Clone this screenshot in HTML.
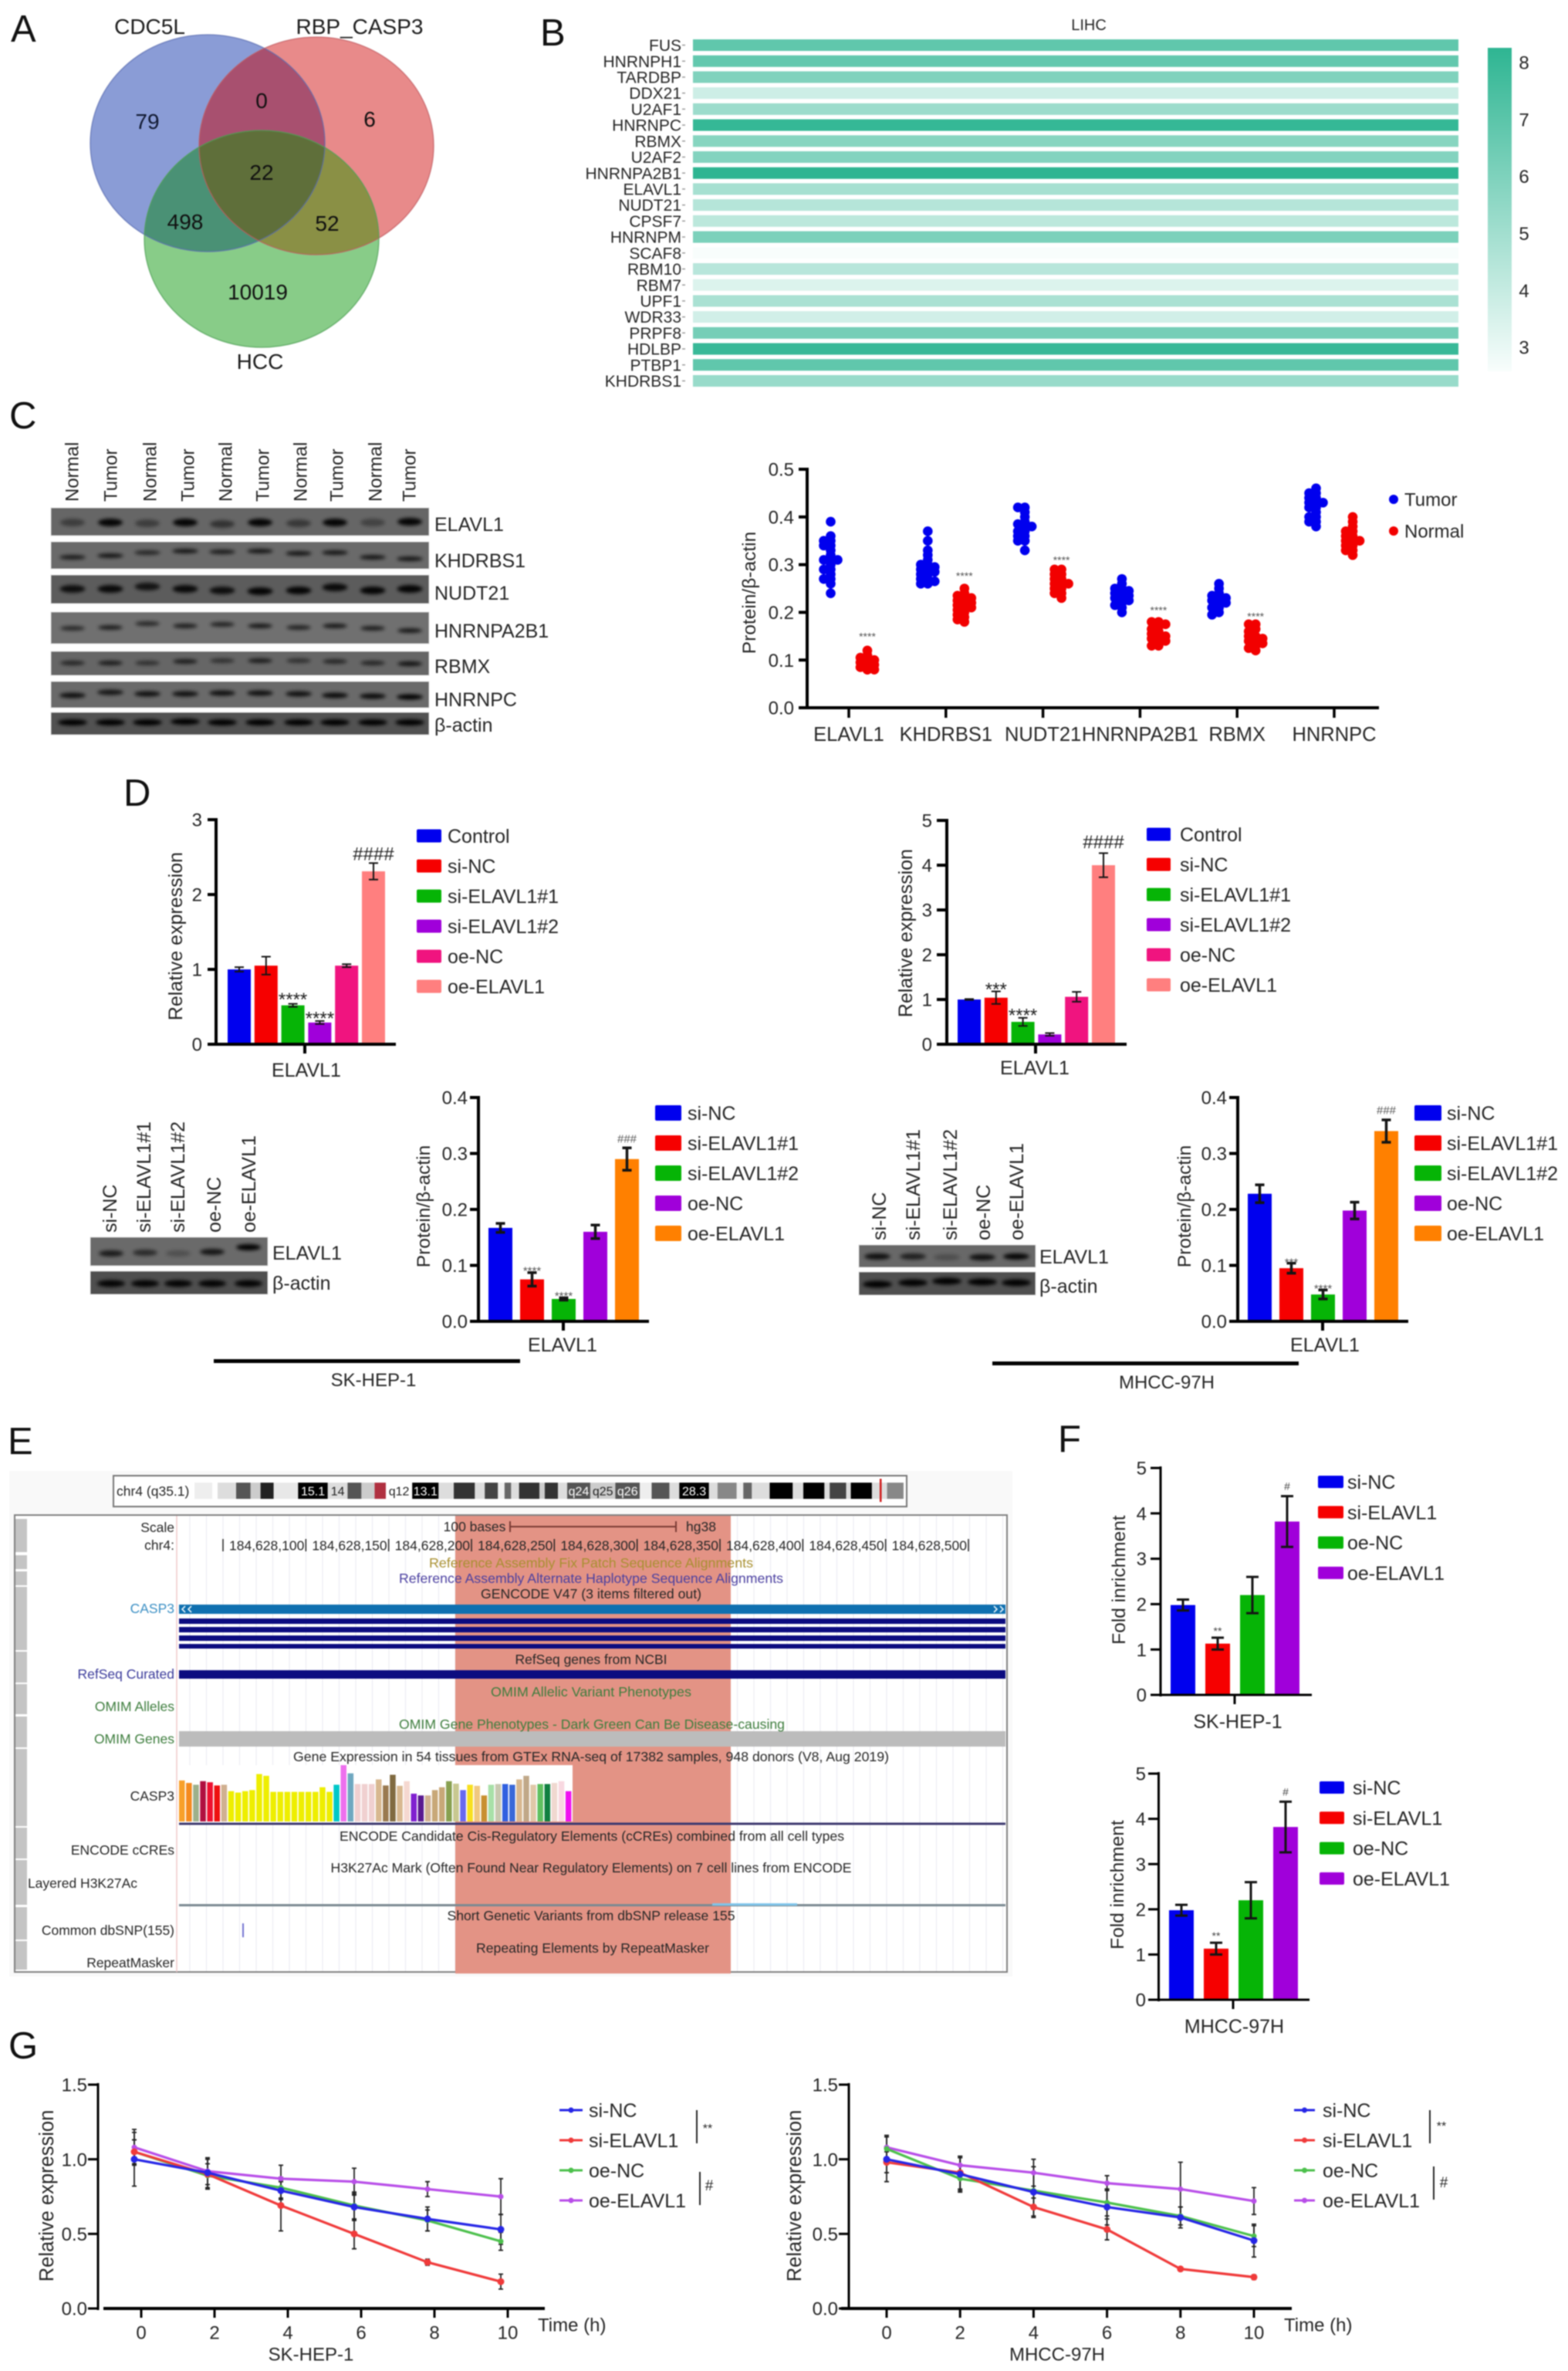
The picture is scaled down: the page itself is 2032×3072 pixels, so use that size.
<!DOCTYPE html>
<html lang="en">
<head>
<meta charset="utf-8">
<title>Multi-panel ELAVL1 and CASP3 figure</title>
<style>
  html, body { margin: 0; padding: 0; background: #fff; }
  body { width: 2032px; height: 3072px; overflow: hidden; }
  #figure { display: block; filter: blur(0.8px); font-family: "Liberation Sans", "DejaVu Sans", sans-serif; fill: #262626; }
  .track { font-size: 17.5px; }
  .letter { font-size: 49px; fill: #111; }
</style>
</head>
<body>
<svg id="figure" xmlns="http://www.w3.org/2000/svg" width="2032" height="3072" viewBox="0 0 2032 3072">
  <defs>
    <filter id="bandBlur" x="-30%" y="-80%" width="160%" height="260%"><feGaussianBlur stdDeviation="2.4"></feGaussianBlur></filter>
    <linearGradient id="colorbarGradient" x1="0" y1="0" x2="0" y2="1">
      <stop offset="0" stop-color="#2eb592"></stop>
      <stop offset="1" stop-color="#f8fdfc"></stop>
    </linearGradient>
    <clipPath id="clipBlue"><ellipse cx="269" cy="185.5" rx="152" ry="140.5"></ellipse></clipPath>
    <clipPath id="clipRed"><ellipse cx="410" cy="189" rx="152" ry="141"></ellipse></clipPath>
  </defs>
  <rect x="0" y="0" width="2032" height="3072" fill="#fff"></rect>

  <text class="letter" x="14" y="54">A</text>
  <text class="letter" x="700" y="59">B</text>
  <text class="letter" x="12" y="555">C</text>
  <text class="letter" x="160" y="1044">D</text>
  <text class="letter" x="10" y="1884">E</text>
  <text class="letter" x="1371" y="1881">F</text>
  <text class="letter" x="11" y="2667">G</text>

  <g id="venn" font-size="28">
    <ellipse cx="269" cy="185.5" rx="152" ry="140.5" fill="#8a9cd6"></ellipse>
    <ellipse cx="410" cy="189" rx="152" ry="141" fill="#e88a8a"></ellipse>
    <ellipse cx="339" cy="309.5" rx="152" ry="140.5" fill="#88cc88"></ellipse>
    <g clip-path="url(#clipBlue)"><ellipse cx="410" cy="189" rx="152" ry="141" fill="#a8506f"></ellipse></g>
    <g clip-path="url(#clipBlue)"><ellipse cx="339" cy="309.5" rx="152" ry="140.5" fill="#4a9175"></ellipse></g>
    <g clip-path="url(#clipRed)"><ellipse cx="339" cy="309.5" rx="152" ry="140.5" fill="#8a9045"></ellipse></g>
    <g clip-path="url(#clipBlue)"><g clip-path="url(#clipRed)"><ellipse cx="339" cy="309.5" rx="152" ry="140.5" fill="#5f6f3a"></ellipse></g></g>
    <g fill="none" stroke-width="1.5">
      <ellipse cx="269" cy="185.5" rx="152" ry="140.5" stroke="#5a6cb0" stroke-opacity="0.7"></ellipse>
      <ellipse cx="410" cy="189" rx="152" ry="141" stroke="#c05a60" stroke-opacity="0.7"></ellipse>
      <ellipse cx="339" cy="309.5" rx="152" ry="140.5" stroke="#4f9f55" stroke-opacity="0.7"></ellipse>
    </g>
    <g text-anchor="middle" fill="#1c1c1c">
      <text x="194" y="44">CDC5L</text>
      <text x="466" y="44">RBP_CASP3</text>
      <text x="337" y="478">HCC</text>
      <text x="191" y="167" fill="#101830">79</text>
      <text x="339" y="140" fill="#101010">0</text>
      <text x="479" y="164" fill="#101010">6</text>
      <text x="339" y="233" fill="#101010">22</text>
      <text x="240" y="297" fill="#101010">498</text>
      <text x="424" y="299" fill="#101010">52</text>
      <text x="334" y="388" fill="#101010">10019</text>
    </g>
  </g>

  <g id="heatmap"></g>
  <g id="blot-c"></g>
  <g id="scatter"></g>
  <g id="blot-d3"></g>
  <g id="blot-d4"></g>

  <g>
    <rect x="277" y="1761" width="397" height="5" fill="#000"></rect>
    <text x="484" y="1796" font-size="24" text-anchor="middle">SK-HEP-1</text>
  </g>
  <g>
    <rect x="1286" y="1764" width="397" height="5" fill="#000"></rect>
    <text x="1512" y="1799" font-size="24" text-anchor="middle">MHCC-97H</text>
  </g>

  <g id="browser">
    <rect x="12" y="1906" width="1300" height="655" fill="#f9f9f9"></rect>
    <rect x="147" y="1912" width="1028" height="40" fill="#fff" stroke="#777" stroke-width="2"></rect>
    <text class="track" x="151" y="1938">chr4 (q35.1)</text>
    <g id="ideogram"></g>
    <rect x="19" y="1963" width="1286" height="592" fill="#fff" stroke="#808080" stroke-width="2"></rect>
    <g id="browser-grid"></g>
    <rect x="590" y="1964" width="357" height="593" fill="#e39385"></rect>
    <g id="browser-left"></g>
    <line x1="229" y1="1964" x2="229" y2="2555" stroke="#f0c8c8" stroke-width="1.5"></line>

    <g id="browser-axis"></g>
    <text class="track" x="615" y="1984" text-anchor="middle">100 bases</text>
    <g stroke="#7a3a34" stroke-width="2">
      <line x1="661" y1="1978" x2="876" y2="1978"></line>
      <line x1="661" y1="1971" x2="661" y2="1985"></line>
      <line x1="876" y1="1971" x2="876" y2="1985"></line>
    </g>
    <text class="track" x="889" y="1984">hg38</text>

    <g class="track" text-anchor="end">
      <text x="226" y="1985">Scale</text>
      <text x="226" y="2008">chr4:</text>
      <text x="226" y="2090" fill="#3b8fc4">CASP3</text>
      <text x="226" y="2175" fill="#3a3a9a">RefSeq Curated</text>
      <text x="226" y="2217" fill="#3d7d3d">OMIM Alleles</text>
      <text x="226" y="2259" fill="#3d7d3d">OMIM Genes</text>
      <text x="226" y="2333">CASP3</text>
      <text x="226" y="2403">ENCODE cCREs</text>
      <text x="178" y="2446">Layered H3K27Ac</text>
      <text x="226" y="2507">Common dbSNP(155)</text>
      <text x="226" y="2549">RepeatMasker</text>
    </g>

    <rect x="232" y="2079" width="1071" height="12" fill="#0f70b0"></rect>
    <g stroke="#e8f4fb" stroke-width="1.6" fill="none">
      <path d="M240 2081l-4 4l4 4M248 2081l-4 4l4 4"></path>
      <path d="M1288 2081l4 4l-4 4M1296 2081l4 4l-4 4"></path>
    </g>
    <rect x="232" y="2097" width="1071" height="7" fill="#0c0c80"></rect>
    <rect x="232" y="2108" width="1071" height="7" fill="#0c0c80"></rect>
    <rect x="232" y="2119" width="1071" height="7" fill="#0c0c80"></rect>
    <rect x="232" y="2130" width="1071" height="6" fill="#0c0c80"></rect>
    <rect x="232" y="2164" width="1071" height="11" fill="#0c0c80"></rect>
    <rect x="232" y="2243" width="1071" height="20" fill="#bcbcbc"></rect>
    <rect x="232" y="2287" width="510" height="73" fill="#fff"></rect>
    <g id="gtex"></g>
    <rect x="232" y="2361.5" width="1071" height="3" fill="#3e3a70"></rect>
    <rect x="232" y="2467" width="1071" height="3" fill="#7b8a92"></rect>
    <rect x="923" y="2466" width="110" height="3" fill="#7fc4ea"></rect>
    <rect x="314" y="2492" width="2" height="18" fill="#7070d0"></rect>

    <g class="track" text-anchor="middle">
      <text x="766" y="2031" fill="#a88f30" textLength="420" lengthAdjust="spacingAndGlyphs">Reference Assembly Fix Patch Sequence Alignments</text>
      <text x="766" y="2051" fill="#4a3fa0" textLength="498" lengthAdjust="spacingAndGlyphs">Reference Assembly Alternate Haplotype Sequence Alignments</text>
      <text x="766" y="2071" textLength="286" lengthAdjust="spacingAndGlyphs">GENCODE V47 (3 items filtered out)</text>
      <text x="766" y="2156" textLength="197" lengthAdjust="spacingAndGlyphs">RefSeq genes from NCBI</text>
      <text x="766" y="2198" fill="#3d7d3d" textLength="260" lengthAdjust="spacingAndGlyphs">OMIM Allelic Variant Phenotypes</text>
      <text x="767" y="2240" fill="#3d7d3d" textLength="500" lengthAdjust="spacingAndGlyphs">OMIM Gene Phenotypes - Dark Green Can Be Disease-causing</text>
      <text x="766" y="2282" textLength="772" lengthAdjust="spacingAndGlyphs">Gene Expression in 54 tissues from GTEx RNA-seq of 17382 samples, 948 donors (V8, Aug 2019)</text>
      <text x="767" y="2385" textLength="654" lengthAdjust="spacingAndGlyphs">ENCODE Candidate Cis-Regulatory Elements (cCREs) combined from all cell types</text>
      <text x="766" y="2426" textLength="675" lengthAdjust="spacingAndGlyphs">H3K27Ac Mark (Often Found Near Regulatory Elements) on 7 cell lines from ENCODE</text>
      <text x="766" y="2488" textLength="373" lengthAdjust="spacingAndGlyphs">Short Genetic Variants from dbSNP release 155</text>
      <text x="768" y="2530" textLength="302" lengthAdjust="spacingAndGlyphs">Repeating Elements by RepeatMasker</text>
    </g>
  </g>
</svg>

<script>
// ---------- Panel B data ----------
const heatmapGenes = ['FUS','HNRNPH1','TARDBP','DDX21','U2AF1','HNRNPC','RBMX','U2AF2','HNRNPA2B1','ELAVL1','NUDT21','CPSF7','HNRNPM','SCAF8','RBM10','RBM7','UPF1','WDR33','PRPF8','HDLBP','PTBP1','KHDRBS1'];
const heatmapValues = [6.8,6.7,5.9,3.7,5.1,8.0,5.7,5.8,8.2,4.8,4.4,4.2,6.0,2.5,4.3,3.3,4.7,3.6,6.2,7.9,6.8,5.2];
const colorbarTicks = ['8','7','6','5','4','3'];

// ---------- Panel C data ----------
const scatterCategories = ['ELAVL1','KHDRBS1','NUDT21','HNRNPA2B1','RBMX','HNRNPC'];
const scatterTicks = ['0.0','0.1','0.2','0.3','0.4','0.5'];
const tumorElavl1 = [.39,.36,.35,.35,.34,.34,.33,.32,.31,.31,.31,.30,.29,.29,.28,.27,.27,.26,.24];
const tumorKhdrbs1 = [.37,.35,.33,.32,.31,.30,.30,.295,.29,.29,.285,.28,.28,.27,.27,.265,.26,.26];
const tumorNudt21 = [.42,.42,.41,.40,.39,.385,.38,.38,.37,.37,.36,.36,.35,.35,.33];
const tumorHnrnpa2b1 = [.27,.26,.25,.25,.245,.24,.24,.235,.23,.23,.225,.22,.215,.21,.20];
const tumorRbmx = [.26,.25,.24,.235,.23,.23,.225,.22,.22,.21,.21,.20,.195];
const tumorHnrnpc = [.46,.45,.45,.44,.44,.43,.43,.43,.42,.42,.41,.40,.40,.39,.39,.38];
const normalElavl1 = [.12,.11,.105,.10,.10,.095,.09,.09,.09,.085,.085,.08,.08,.08,.08];
const normalKhdrbs1 = [.25,.24,.235,.23,.23,.225,.22,.22,.215,.21,.21,.205,.20,.195,.19,.185,.18];
const normalNudt21 = [.29,.29,.28,.28,.27,.27,.26,.26,.26,.25,.25,.24,.24,.23];
const normalHnrnpa2b1 = [.18,.18,.175,.17,.165,.16,.155,.15,.15,.145,.145,.14,.14,.13,.13];
const normalRbmx = [.175,.175,.165,.16,.15,.15,.145,.14,.14,.135,.13,.125,.12];
const normalHnrnpc = [.40,.39,.38,.37,.37,.36,.36,.35,.35,.35,.34,.34,.33,.33,.32];
const scatterTumor = [tumorElavl1,tumorKhdrbs1,tumorNudt21,tumorHnrnpa2b1,tumorRbmx,tumorHnrnpc];
const scatterNormal = [normalElavl1,normalKhdrbs1,normalNudt21,normalHnrnpa2b1,normalRbmx,normalHnrnpc];
const scatterStarLevels = [.155,.2815,.315,.21,.197,null];

// ---------- Panel D data ----------
const qpcrGroups = ['Control','si-NC','si-ELAVL1#1','si-ELAVL1#2','oe-NC','oe-ELAVL1'];
const qpcrSkValues = [1.0,1.05,.52,.29,1.05,2.31];
const qpcrSkErrors = [.03,.12,.02,.02,.02,.11];
const qpcrSkMarks = ['','','****','****','','####'];
const qpcrSkMarkLevels = [null,null,.65,.40,null,2.55];
const qpcrSkTicks = ['0','1','2','3'];
const qpcrMhccValues = [1.0,1.04,.5,.22,1.06,4.0];
const qpcrMhccErrors = [.01,.14,.09,.03,.11,.27];
const qpcrMhccMarks = ['','***','****','','','####'];
const qpcrMhccMarkLevels = [null,1.31,.74,null,null,4.53];
const qpcrMhccTicks = ['0','1','2','3','4','5'];
const wbGroups = ['si-NC','si-ELAVL1#1','si-ELAVL1#2','oe-NC','oe-ELAVL1'];
const wbTicks = ['0.0','0.1','0.2','0.3','0.4'];
const wbSkValues = [.167,.075,.04,.16,.29];
const wbSkErrors = [.008,.012,.002,.012,.02];
const wbSkMarks = ['','****','****','','###'];
const wbSkMarkLevels = [null,.095,.05,null,.327];
const wbMhccValues = [.228,.095,.048,.198,.34];
const wbMhccErrors = [.016,.009,.008,.015,.02];
const wbMhccMarks = ['','***','****','','###'];
const wbMhccMarkLevels = [null,.11,.063,null,.378];

// ---------- Panel F data ----------
const ripGroups = ['si-NC','si-ELAVL1','oe-NC','oe-ELAVL1'];
const ripTicks = ['0','1','2','3','4','5'];
const ripSkValues = [1.98,1.13,2.2,3.82];
const ripSkErrors = [.12,.13,.4,.56];
const ripMhccValues = [1.98,1.13,2.2,3.82];
const ripMhccErrors = [.12,.13,.4,.56];
const ripMarks = ['','**','','#'];
const ripMarkLevels = [null,1.46,null,4.6];

// ---------- Panel E GTEx data ----------
const gtexValues = [11.5,10.8,10.3,11.3,11,10.1,10.3,8.5,8.1,8.5,8.8,13.3,12.8,8.3,8.3,8.3,8.3,8.3,8.3,8.3,9.6,8.3,10.3,15.8,13.5,10.5,10.5,10.5,11.8,10.1,13.1,10,11.3,7.8,7.3,7.3,8.8,9.6,11.3,10.6,8.8,10.3,10,7.3,10.3,10.5,10.5,10.3,11.8,12.8,10.3,10.5,10.5,10.8,11.3,8.5];
const gtexColors = ['#f8a02a','#f58a1e','#9db08a','#b01040','#ee1030','#ee1010','#d0b090','#eeee00','#eeee00','#eeee00','#eeee00','#eeee00','#eeee00','#eeee00','#eeee00','#eeee00','#eeee00','#eeee00','#eeee00','#eeee00','#eeee00','#eeee00','#00c8c8','#ee70ee','#6fa8c0','#f0d0d0','#f0d0d0','#f0d0d0','#d8b890','#9a7a50','#806a40','#d8b890','#f5d8d0','#8020d0','#5a1a90','#d0b090','#c8a878','#c8a878','#88a050','#c8c890','#6868f0','#f8e020','#f0c880','#c89030','#a8e0a8','#c8c8b0','#3060e0','#3a68d8','#d8b890','#c0a888','#e0c8a8','#60c060','#108040','#f0d8d0','#f8d8e0','#f010f0'];
const positionLabels = ['184,628,100','184,628,150','184,628,200','184,628,250','184,628,300','184,628,350','184,628,400','184,628,450','184,628,500'];

// ---------- Panel G data ----------
const timeLabels = ['0','2','4','6','8','10'];
const timeValues = [0,2,4,6,8,10];
const decayTicks = ['0.0','0.5','1.0','1.5'];
const decaySeriesNames = ['si-NC','si-ELAVL1','oe-NC','oe-ELAVL1'];
const decaySkSiNc = [1.0,.91,.79,.68,.60,.53];
const decaySkSiElavl1 = [1.05,.90,.69,.50,.31,.18];
const decaySkOeNc = [1.05,.89,.81,.69,.59,.45];
const decaySkOeElavl1 = [1.08,.92,.87,.85,.80,.75];
const decaySkErrSiNc = [.18,.10,.06,.09,.08,.10];
const decaySkErrSiElavl1 = [.08,.10,.17,.10,.02,.05];
const decaySkErrOeNc = [.08,.08,.07,.09,.07,.06];
const decaySkErrOeElavl1 = [.12,.09,.09,.09,.05,.12];
const decayMhccSiNc = [1.0,.90,.78,.68,.61,.455];
const decayMhccSiElavl1 = [.98,.91,.68,.53,.265,.21];
const decayMhccOeNc = [1.07,.87,.79,.71,.62,.485];
const decayMhccOeElavl1 = [1.08,.96,.91,.84,.80,.72];
const decayMhccErrSiNc = [.15,.11,.17,.12,.07,.11];
const decayMhccErrSiElavl1 = [.07,.11,.06,.07,.01,.015];
const decayMhccErrOeNc = [.09,.09,.12,.09,.06,.07];
const decayMhccErrOeElavl1 = [.08,.06,.09,.05,.18,.09];

// ---------- Helpers ----------
const NS = 'http://www.w3.org/2000/svg';
const root = document.getElementById('figure');
const BLUE = '#0000ee', RED = '#f60000', GREEN = '#06b406', PURPLE = '#a000da';

function mk(tag, attrs, parent) {
  const el = document.createElementNS(NS, tag);
  for (const k in attrs) el.setAttribute(k, attrs[k]);
  (parent || root).appendChild(el);
  return el;
}
function linear(d0, d1, r0, r1) {
  return function (v) { return r0 + (v - d0) * (r1 - r0) / (d1 - d0); };
}
function label(str, x, y, size, anchor, parent, rotate) {
  const a = { 'font-size': size, 'text-anchor': anchor || 'start' };
  if (rotate) {
    const tx = x + 0.36 * size;
    a.x = tx; a.y = y;
    a.transform = 'rotate(-90 ' + tx + ' ' + y + ')';
  } else {
    a.x = x; a.y = y + 0.36 * size;
  }
  const el = mk('text', a, parent);
  el.textContent = str;
  return el;
}
function slug(s) {
  return String(s).toLowerCase().replace(/[^a-z0-9]+/g, '-');
}

// ---------- Panel B: heatmap ----------
(function drawHeatmap() {
  const g = document.getElementById('heatmap');
  const color = function (v) {
    const t = (v - 2.5) / (8.2 - 2.5);
    const c0 = [248, 253, 252], c1 = [46, 181, 146];
    return 'rgb(' + c0.map(function (c, i) { return Math.round(c + (c1[i] - c) * t); }).join(',') + ')';
  };
  const rowY = linear(0, heatmapGenes.length - 1, 58.5, 493.5);
  const title = label('LIHC', 1411, 32, 20, 'middle', g);
  
  
  heatmapValues.forEach(function (v, i) {
    const bar = mk('rect', { x: 898, y: rowY(i) - 7.5, width: 992, height: 15, fill: color(v) }, g);
    
    
    const t = label(heatmapGenes[i], 883, rowY(i), 21, 'end', g);
    
    
    const tick = mk('line', { x1: 884, x2: 888, y1: rowY(i), y2: rowY(i), stroke: '#999', 'stroke-width': 1.5 }, g);
    
    
  });
  const cb = mk('rect', { x: 1928, y: 62, width: 31, height: 419, fill: 'url(#colorbarGradient)' }, g);
  
  
  const cbY = linear(8, 3, 81, 450);
  colorbarTicks.forEach(function (s) {
    const t = label(s, 1975, cbY(Number(s)), 24, 'middle', g);
    
    
  });
})();

// ---------- Western blots ----------
function drawBand(g, cx, cy, w, h, opacity) {
  const band = mk('ellipse', { cx: cx, cy: cy, rx: w / 2, ry: h / 2, fill: '#060606', opacity: opacity, filter: 'url(#bandBlur)' }, g);
  
  
}
function drawBlotRow(g, name, x, y, w, h, bg, lanes, bandY, bandW, bandH, opacities, offsets, labelX, labelY) {
  const bgRect = mk('rect', { x: x, y: y, width: w, height: h, fill: bg, stroke: '#ddd', 'stroke-width': 1 }, g);
  
  
  lanes.forEach(function (cx, i) {
    drawBand(g, cx, bandY + (offsets ? offsets[i] : 0), bandW, bandH, opacities[i]);
  });
  const t = label(name, labelX, labelY, 25, 'start', g);
  
  
}
(function drawBlotC() {
  const g = document.getElementById('blot-c');
  const heads = ['Normal','Tumor','Normal','Tumor','Normal','Tumor','Normal','Tumor','Normal','Tumor'];
  const headX = [93,143,194,243,292,340,389,436,486,530];
  heads.forEach(function (s, i) {
    const t = label(s, headX[i], 650, 24, 'start', g, true);
    
    
  });
  const lanes = [94,143,191,240,288,337,387,434,483,531];
  drawBlotRow(g, 'ELAVL1', 66, 658, 490, 36, '#666666', lanes, 677, 32, 10, [.4,.95,.4,.95,.5,.95,.45,.95,.35,.95], [0,0,1,0,2,0,1,0,0,-1], 563, 679);
  drawBlotRow(g, 'KHDRBS1', 66, 702, 490, 35, '#6a6a6a', lanes, 716, 34, 6, [.75,.8,.65,.8,.75,.8,.8,.8,.8,.8], [6,4,0,-2,-1,-2,1,0,6,8], 563, 726);
  drawBlotRow(g, 'NUDT21', 66, 745, 490, 37, '#5c5c5c', lanes, 763, 33, 10, [.85,.9,.8,.9,.85,.95,.95,.9,.95,.95], [0,0,-3,0,2,3,2,-2,2,0], 563, 768);
  drawBlotRow(g, 'HNRNPA2B1', 66, 793, 490, 41, '#707070', lanes, 811, 32, 6, [.65,.75,.65,.75,.7,.8,.7,.8,.75,.8], [3,2,-3,0,-2,0,2,0,3,6], 563, 817);
  drawBlotRow(g, 'RBMX', 66, 844, 490, 31, '#666666', lanes, 858, 32, 6, [.65,.75,.55,.75,.55,.75,.55,.65,.65,.85], [1,1,1,-1,-2,-2,-2,-1,1,2], 563, 863);
  drawBlotRow(g, 'HNRNPC', 66, 883, 490, 34, '#6a6a6a', lanes, 899, 34, 7, [.85,.8,.85,.85,.85,.85,.85,.9,.9,1], [2,-2,0,0,-1,-1,0,2,3,4], 563, 906);
  drawBlotRow(g, 'β-actin', 66, 923, 490, 29, '#525252', lanes, 936, 38, 8, [1,1,1,1,1,1,1,1,1,1], [0,0,0,-1,0,0,0,0,0,0], 563, 939);
})();
(function drawSmallBlots() {
  const gA = document.getElementById('blot-d3');
  const gB = document.getElementById('blot-d4');
  const xA = [142,186,230,277,322];
  const xB = [1139,1183,1231,1274,1317];
  wbGroups.forEach(function (s, i) {
    const a = label(s, xA[i], 1597, 25, 'start', gA, true);
    
    
    const b = label(s, xB[i], 1607, 25, 'start', gB, true);
    
    
  });
  const lanesA = [144,188,231,275,322];
  const lanesB = [1137,1183,1227,1273,1317];
  drawBlotRow(gA, 'ELAVL1', 117, 1603, 230, 37, '#6a6a6a', lanesA, 1623, 32, 8, [.75,.6,.25,.8,.98], [1,0,1,-1,-7], 353, 1623);
  drawBlotRow(gA, 'β-actin', 117, 1647, 230, 30, '#4f4f4f', lanesA, 1663, 36, 9, [.95,.95,.95,.95,.95], [0,0,0,0,0], 353, 1662);
  drawBlotRow(gB, 'ELAVL1', 1113, 1613, 229, 29, '#686868', lanesB, 1628, 34, 8, [.85,.7,.25,.85,.95], [0,0,1,1,0], 1347, 1628);
  drawBlotRow(gB, 'β-actin', 1113, 1648, 229, 30, '#505050', lanesB, 1662, 38, 9, [.98,.98,.98,.98,.98], [2,0,-2,-1,0], 1347, 1666);
})();

// ---------- Panel C: scatter ----------
function swarmOffsets(values, yScale, step, minDist) {
  const placed = [];
  return values.map(function (v) {
    const py = yScale(v);
    const tries = [0, -step, step, -2 * step, 2 * step, -3 * step, 3 * step];
    let off = 0;
    for (let k = 0; k < tries.length; k++) {
      const ok = placed.every(function (p) {
        const dx = p.x - tries[k], dy = p.y - py;
        return dx * dx + dy * dy >= minDist * minDist;
      });
      if (ok) { off = tries[k]; break; }
    }
    placed.push({ x: off, y: py });
    return off;
  });
}
(function drawScatter() {
  const g = document.getElementById('scatter');
  const y = linear(0, 0.5, 917, 608);
  const xTick = linear(0, 5, 1100, 1729);
  const axisY = mk('line', { x1: 1046, x2: 1046, y1: 606, y2: 919, stroke: '#000', 'stroke-width': 4 }, g);
  
  
  const axisX = mk('line', { x1: 1035, x2: 1787, y1: 917, y2: 917, stroke: '#000', 'stroke-width': 4 }, g);
  
  
  scatterTicks.forEach(function (s) {
    const v = Number(s);
    const tick = mk('line', { x1: 1035, x2: 1046, y1: y(v), y2: y(v), stroke: '#000', 'stroke-width': 4 }, g);
    
    
    const t = label(s, 1029, y(v), 24, 'end', g);
    
    
  });
  const title = label('Protein/β-actin', 970, 768, 24.5, 'middle', g, true);
  
  
  scatterCategories.forEach(function (cat, i) {
    const cx = xTick(i);
    const tick = mk('line', { x1: cx, x2: cx, y1: 917, y2: 930, stroke: '#000', 'stroke-width': 3.5 }, g);
    
    
    const t = label(cat, cx, 951, 25.5, 'middle', g);
    
    
    const tOff = swarmOffsets(scatterTumor[i], y, 4.5, 6);
    scatterTumor[i].forEach(function (v, k) {
      const dot = mk('circle', { cx: cx - 23.5 + tOff[k], cy: y(v), r: 6.3, fill: BLUE }, g);
      
      
    });
    const nOff = swarmOffsets(scatterNormal[i], y, 4.5, 6);
    scatterNormal[i].forEach(function (v, k) {
      const dot = mk('circle', { cx: cx + 24 + nOff[k], cy: y(v), r: 6.3, fill: '#f20000' }, g);
      
      
    });
    if (scatterStarLevels[i] !== null) {
      const star = label('****', cx + 24, y(scatterStarLevels[i]) + 3, 14, 'middle', g);
      star.setAttribute('fill', '#555');
      
      
    }
  });
  const legendItems = [['Tumor', BLUE, 647], ['Normal', '#f20000', 688]];
  legendItems.forEach(function (item) {
    const dot = mk('circle', { cx: 1806, cy: item[2], r: 6, fill: item[1] }, g);
    
    
    const t = label(item[0], 1820, item[2], 24, 'start', g);
    
    
  });
})();

// ---------- Bar charts ----------
function drawBarChart(cfg) {
  const g = mk('g', {});
  
  
  const y = linear(0, cfg.yMax, cfg.yBase, cfg.yTop);
  cfg.values.forEach(function (v, i) {
    const x = cfg.firstBar + i * cfg.step;
    const bar = mk('rect', { x: x, y: y(v), width: cfg.barWidth, height: cfg.yBase - y(v), fill: cfg.colors[i] }, g);
    
    
    const cx = x + cfg.barWidth / 2;
    const hi = y(v + cfg.errors[i]), lo = y(v - cfg.errors[i]);
    const err = mk('path', {
      d: 'M' + cx + ' ' + hi + 'V' + lo + 'M' + (cx - cfg.cap) + ' ' + hi + 'H' + (cx + cfg.cap) + 'M' + (cx - cfg.cap) + ' ' + lo + 'H' + (cx + cfg.cap),
      stroke: '#141414', 'stroke-width': cfg.errWidth, fill: 'none'
    }, g);
    
    
    if (cfg.marks[i]) {
      const size = cfg.markSize;
      const isStar = cfg.marks[i].charAt(0) === '*';
      const base = y(cfg.markLevels[i]) + (isStar ? 0.55 : 0.36) * size;
      const m = mk('text', { x: cx, y: base, 'font-size': size, 'text-anchor': 'middle', fill: cfg.markFill }, g);
      m.textContent = cfg.marks[i];
      
      
    }
  });
  const axisY = mk('line', { x1: cfg.axisX, x2: cfg.axisX, y1: cfg.yTop - 2, y2: cfg.yBase + 2, stroke: '#000', 'stroke-width': cfg.axisWidth }, g);
  
  
  const axisX = mk('line', { x1: cfg.axisStart, x2: cfg.axisEnd, y1: cfg.yBase, y2: cfg.yBase, stroke: '#000', 'stroke-width': cfg.axisWidth }, g);
  
  
  const xt = mk('line', { x1: cfg.tickX, x2: cfg.tickX, y1: cfg.yBase, y2: cfg.yBase + 12, stroke: '#000', 'stroke-width': cfg.axisWidth }, g);
  
  
  cfg.ticks.forEach(function (s) {
    const v = Number(s);
    const tick = mk('line', { x1: cfg.axisStart, x2: cfg.axisX, y1: y(v), y2: y(v), stroke: '#000', 'stroke-width': cfg.axisWidth }, g);
    
    
    const t = label(s, cfg.tickLabelX, y(v), 24, 'end', g);
    
    
  });
  const title = label(cfg.yTitle, cfg.titleX, cfg.titleY, cfg.titleSize, 'middle', g, true);
  
  
  const xl = label(cfg.xLabel, cfg.xLabelX, cfg.xLabelY, 25, 'middle', g);
  
  
  cfg.categories.forEach(function (cat, i) {
    const cy = cfg.legendY + i * cfg.legendStep;
    const sw = mk('rect', { x: cfg.swatchX, y: cy - cfg.swatchH / 2, width: cfg.swatchW, height: cfg.swatchH, rx: 2, fill: cfg.colors[i] }, g);
    
    
    const t = label(cat, cfg.legendTextX, cy, 25, 'start', g);
    
    
  });
}
const sixColors = [BLUE, RED, GREEN, PURPLE, '#f0147f', '#ff7f7f'];
const fiveColors = [BLUE, RED, GREEN, PURPLE, '#ff8000'];
const fourColors = [BLUE, RED, GREEN, PURPLE];

drawBarChart({ name: 'qpcr-bar-chart-sk-hep-1', categories: qpcrGroups, values: qpcrSkValues, errors: qpcrSkErrors, marks: qpcrSkMarks, markLevels: qpcrSkMarkLevels, ticks: qpcrSkTicks, colors: sixColors, yMax: 3, yBase: 1353, yTop: 1062, firstBar: 295, step: 34.8, barWidth: 30, cap: 6, errWidth: 2, markSize: 24, markFill: '#222', axisX: 280, axisStart: 269, axisEnd: 513, axisWidth: 4, tickX: 395, tickLabelX: 262, yTitle: 'Relative expression', titleX: 227, titleY: 1213, titleSize: 25, xLabel: 'ELAVL1', xLabelX: 397, xLabelY: 1386, swatchX: 540, swatchW: 32, swatchH: 17, legendTextX: 580, legendY: 1083, legendStep: 39 });
drawBarChart({ name: 'qpcr-bar-chart-mhcc-97h', categories: qpcrGroups, values: qpcrMhccValues, errors: qpcrMhccErrors, marks: qpcrMhccMarks, markLevels: qpcrMhccMarkLevels, ticks: qpcrMhccTicks, colors: sixColors, yMax: 5, yBase: 1353, yTop: 1063, firstBar: 1241, step: 34.8, barWidth: 30, cap: 6, errWidth: 2, markSize: 24, markFill: '#222', axisX: 1227, axisStart: 1214, axisEnd: 1460, axisWidth: 4, tickX: 1342, tickLabelX: 1208, yTitle: 'Relative expression', titleX: 1173, titleY: 1209, titleSize: 25, xLabel: 'ELAVL1', xLabelX: 1341, xLabelY: 1383, swatchX: 1486, swatchW: 31, swatchH: 17, legendTextX: 1529, legendY: 1081, legendStep: 39 });
drawBarChart({ name: 'western-bar-chart-sk-hep-1', categories: wbGroups, values: wbSkValues, errors: wbSkErrors, marks: wbSkMarks, markLevels: wbSkMarkLevels, ticks: wbTicks, colors: fiveColors, yMax: .4, yBase: 1712, yTop: 1422, firstBar: 633, step: 41, barWidth: 31, cap: 6, errWidth: 3.5, markSize: 15, markFill: '#555', axisX: 620, axisStart: 609, axisEnd: 841, axisWidth: 4, tickX: 730, tickLabelX: 606, yTitle: 'Protein/β-actin', titleX: 548, titleY: 1563, titleSize: 24.5, xLabel: 'ELAVL1', xLabelX: 729, xLabelY: 1742, swatchX: 849, swatchW: 34, swatchH: 20, legendTextX: 891, legendY: 1442, legendStep: 39 });
drawBarChart({ name: 'western-bar-chart-mhcc-97h', categories: wbGroups, values: wbMhccValues, errors: wbMhccErrors, marks: wbMhccMarks, markLevels: wbMhccMarkLevels, ticks: wbTicks, colors: fiveColors, yMax: .4, yBase: 1712, yTop: 1422, firstBar: 1617, step: 41, barWidth: 31, cap: 6, errWidth: 3.5, markSize: 15, markFill: '#555', axisX: 1604, axisStart: 1593, axisEnd: 1825, axisWidth: 4, tickX: 1714, tickLabelX: 1590, yTitle: 'Protein/β-actin', titleX: 1534, titleY: 1563, titleSize: 24.5, xLabel: 'ELAVL1', xLabelX: 1717, xLabelY: 1742, swatchX: 1833, swatchW: 35, swatchH: 20, legendTextX: 1875, legendY: 1442, legendStep: 39 });
drawBarChart({ name: 'fold-enrichment-chart-sk-hep-1', categories: ripGroups, values: ripSkValues, errors: ripSkErrors, marks: ripMarks, markLevels: ripMarkLevels, ticks: ripTicks, colors: fourColors, yMax: 5, yBase: 2196, yTop: 1902, firstBar: 1517, step: 45, barWidth: 32, cap: 8, errWidth: 3, markSize: 14, markFill: '#444', axisX: 1504, axisStart: 1491, axisEnd: 1700, axisWidth: 3, tickX: 1600, tickLabelX: 1486, yTitle: 'Fold inrichment', titleX: 1449, titleY: 2047, titleSize: 24.5, xLabel: 'SK-HEP-1', xLabelX: 1604, xLabelY: 2230, swatchX: 1708, swatchW: 33, swatchH: 16, legendTextX: 1746, legendY: 1920, legendStep: 39.3 });
drawBarChart({ name: 'fold-enrichment-chart-mhcc-97h', categories: ripGroups, values: ripMhccValues, errors: ripMhccErrors, marks: ripMarks, markLevels: ripMarkLevels, ticks: ripTicks, colors: fourColors, yMax: 5, yBase: 2591, yTop: 2298, firstBar: 1515, step: 45, barWidth: 32, cap: 8, errWidth: 3, markSize: 14, markFill: '#444', axisX: 1501.5, axisStart: 1488, axisEnd: 1697, axisWidth: 3, tickX: 1598, tickLabelX: 1485, yTitle: 'Fold inrichment', titleX: 1447, titleY: 2442, titleSize: 24.5, xLabel: 'MHCC-97H', xLabelX: 1599.5, xLabelY: 2625, swatchX: 1710, swatchW: 32, swatchH: 16, legendTextX: 1753, legendY: 2316, legendStep: 39.3 });

// ---------- Panel E: browser details ----------
(function drawBrowser() {
  const ideo = document.getElementById('ideogram');
  const widths = [27,8,28,22,15,20,37,45,30,21,20,17,40,40,23,32,15,20,10,10,12,31,8,20,14,35,38,37,18,27,15,45,13,29,10,13,27,35,16,32,8,25,7,32,23,25];
  const shades = ['#eeeeee','#ffffff','#dddddd','#555555','#cccccc','#222222','#e8e8e8','#000000','#dddddd','#555555','#cccccc','#b03040','#ffffff','#000000','#dddddd','#333333','#dddddd','#444444','#eeeeee','#666666','#dddddd','#333333','#cccccc','#333333','#dddddd','#555555','#cccccc','#555555','#eeeeee','#555555','#dddddd','#000000','#dddddd','#888888','#eeeeee','#666666','#dddddd','#000000','#dddddd','#000000','#dddddd','#444444','#dddddd','#000000','#dddddd','#888888'];
  const names = { 7: '15.1', 8: '14', 12: 'q12', 13: '13.1', 25: 'q24', 26: 'q25', 27: 'q26', 31: '28.3' };
  let pos = 295;
  widths.forEach(function (w, i) {
    const x = pos / 1.17, bw = w / 1.17;
    const band = mk('rect', { x: x, y: 1921, width: bw, height: 21, fill: shades[i] }, ideo);
    
    
    if (names[i]) {
      const t = label(names[i], x + bw / 2, 1931.5, 16, 'middle', ideo);
      t.setAttribute('fill', shades[i] === '#000000' || shades[i] === '#555555' ? '#fff' : '#222');
      
      
    }
    pos += w;
  });
  const marker = mk('rect', { x: 1140, y: 1916, width: 2.5, height: 30, fill: '#d01818' }, ideo);
  
  

  const grid = document.getElementById('browser-grid');
  for (let x = 246; x < 1304; x += 21.5) {
    const l = mk('line', { x1: x, x2: x, y1: 1964, y2: 2554, stroke: '#e4e4ec', 'stroke-width': 1, 'stroke-opacity': 0.8 }, grid);
    
    
  }
  const left = document.getElementById('browser-left');
  const segStarts = [1968,2015,2036,2056,2140,2182,2224,2266,2368,2410,2471,2515];
  const segEnds = [2011,2033,2054,2138,2180,2221,2264,2366,2408,2468,2513,2552];
  segStarts.forEach(function (s, i) {
    const seg = mk('rect', { x: 20, y: s, width: 15, height: segEnds[i] - s, fill: '#c4c4c4' }, left);
    
    
  });

  const axis = document.getElementById('browser-axis');
  const posX = linear(0, 9, 289, 1255);
  for (let i = 0; i <= positionLabels.length; i++) {
    const tick = mk('line', { x1: posX(i), x2: posX(i), y1: 1994, y2: 2010, stroke: '#222', 'stroke-width': 1.5 }, axis);
    
    
  }
  positionLabels.forEach(function (s, i) {
    const t = label(s, posX(i + 1) - 2, 2002, 17.5, 'end', axis);
    
    
  });

  const gtex = document.getElementById('gtex');
  const gx = linear(0, gtexValues.length, 232, 742);
  const gy = linear(0, 15.8, 2360, 2287);
  gtexValues.forEach(function (v, i) {
    const b = mk('rect', { x: gx(i), y: gy(v), width: 7.5, height: 2360 - gy(v), fill: gtexColors[i] }, gtex);
    
    
  });
})();

// ---------- Panel G: line charts ----------
function drawLineChart(cfg) {
  const g = mk('g', {});
  
  
  const y = linear(0, 1.5, 2991, 2701);
  const x = linear(0, 10, cfg.x0, cfg.x10);
  const axisY = mk('line', { x1: cfg.axisX, x2: cfg.axisX, y1: 2699, y2: 2993, stroke: '#000', 'stroke-width': 3 }, g);
  
  
  const axisXL = mk('line', { x1: cfg.xAxisStart, x2: cfg.xAxisEnd, y1: 2991, y2: 2991, stroke: '#000', 'stroke-width': 4 }, g);
  
  
  decayTicks.forEach(function (s) {
    const v = Number(s);
    const tick = mk('line', { x1: cfg.axisX - 13, x2: cfg.axisX, y1: y(v), y2: y(v), stroke: '#000', 'stroke-width': 3 }, g);
    
    
    const t = label(s, cfg.tickLabelX, y(v), 24, 'end', g);
    
    
  });
  timeValues.forEach(function (v, i) {
    const tx = x(v) + cfg.tickOffset;
    const tick = mk('line', { x1: tx, x2: tx, y1: 2991, y2: 3003, stroke: '#000', 'stroke-width': 3 }, g);
    
    
    const t = label(timeLabels[i], tx, 3022, 24, 'middle', g);
    
    
  });
  const title = label('Relative expression', cfg.titleX, 2845, 25.5, 'middle', g, true);
  
  
  const tl = label('Time (h)', cfg.timeX, 3012, 24, 'start', g);
  
  
  const cl = label(cfg.cell, cfg.cellX, 3050, 24, 'middle', g);
  
  
  const colors = ['#2626e6', '#f03a3a', '#4cc04c', '#b84ee8'];
  cfg.series.forEach(function (vals, s) {
    vals.forEach(function (v, i) {
      const cx = x(timeValues[i]);
      const hi = y(v + cfg.errors[s][i]), lo = y(v - cfg.errors[s][i]);
      const e = mk('path', { d: 'M' + cx + ' ' + hi + 'V' + lo + 'M' + (cx - 3) + ' ' + hi + 'H' + (cx + 3) + 'M' + (cx - 3) + ' ' + lo + 'H' + (cx + 3), stroke: '#222', 'stroke-width': 1.8, fill: 'none' }, g);
      
      
    });
  });
  [3, 2, 1, 0].forEach(function (s) {
    const vals = cfg.series[s];
    const pts = vals.map(function (v, i) { return x(timeValues[i]) + ',' + y(v); }).join(' ');
    const line = mk('polyline', { points: pts, fill: 'none', stroke: colors[s], 'stroke-width': 3.2, 'stroke-linejoin': 'round' }, g);
    
    
    vals.forEach(function (v, i) {
      const dot = mk('circle', { cx: x(timeValues[i]), cy: y(v), r: s === 3 || s === 2 ? 3.5 : 4.5, fill: colors[s] }, g);
      
      
    });
  });
  decaySeriesNames.forEach(function (n, s) {
    const cy = 2734 + s * 39;
    const l = mk('line', { x1: cfg.legendLine0, x2: cfg.legendLine1, y1: cy, y2: cy, stroke: colors[s], 'stroke-width': 3 }, g);
    
    
    const d = mk('circle', { cx: (cfg.legendLine0 + cfg.legendLine1) / 2, cy: cy, r: 3.5, fill: colors[s] }, g);
    
    
    const t = label(n, cfg.legendTextX, cy, 25, 'start', g);
    
    
  });
  const b1 = mk('line', { x1: cfg.bracket1X, x2: cfg.bracket1X, y1: 2734, y2: 2777, stroke: '#111', 'stroke-width': 1.8 }, g);
  
  
  const b2 = mk('line', { x1: cfg.bracket2X, x2: cfg.bracket2X, y1: cfg.bracket2Y, y2: cfg.bracket2Y + 43, stroke: '#111', 'stroke-width': 1.8 }, g);
  
  
  const s1 = mk('text', { x: cfg.star1X, y: cfg.star1Y + 8, 'font-size': 16, 'text-anchor': 'middle' }, g);
  s1.textContent = '**';
  
  
  const s2 = mk('text', { x: cfg.star2X, y: cfg.star2Y + 7, 'font-size': 19, 'text-anchor': 'middle' }, g);
  s2.textContent = '#';
  
  
}
drawLineChart({ name: 'mrna-decay-chart-sk-hep-1', cell: 'SK-HEP-1', cellX: 403, series: [decaySkSiNc, decaySkSiElavl1, decaySkOeNc, decaySkOeElavl1], errors: [decaySkErrSiNc, decaySkErrSiElavl1, decaySkErrOeNc, decaySkErrOeElavl1], x0: 174, x10: 649, tickOffset: 9, axisX: 127, xAxisStart: 134, xAxisEnd: 706, tickLabelX: 113, titleX: 60, timeX: 697, legendLine0: 725, legendLine1: 755, legendTextX: 763, bracket1X: 903, bracket2X: 907, bracket2Y: 2814, star1X: 917, star1Y: 2755, star2X: 919, star2Y: 2831 });
drawLineChart({ name: 'mrna-decay-chart-mhcc-97h', cell: 'MHCC-97H', cellX: 1370, series: [decayMhccSiNc, decayMhccSiElavl1, decayMhccOeNc, decayMhccOeElavl1], errors: [decayMhccErrSiNc, decayMhccErrSiElavl1, decayMhccErrOeNc, decayMhccErrOeElavl1], x0: 1149, x10: 1625, tickOffset: 0, axisX: 1100, xAxisStart: 1090, xAxisEnd: 1674, tickLabelX: 1086, titleX: 1029, timeX: 1664, legendLine0: 1677, legendLine1: 1704, legendTextX: 1714, bracket1X: 1853, bracket2X: 1858, bracket2Y: 2807, star1X: 1868, star1Y: 2752, star2X: 1871, star2Y: 2827 });
</script>
</body>
</html>
